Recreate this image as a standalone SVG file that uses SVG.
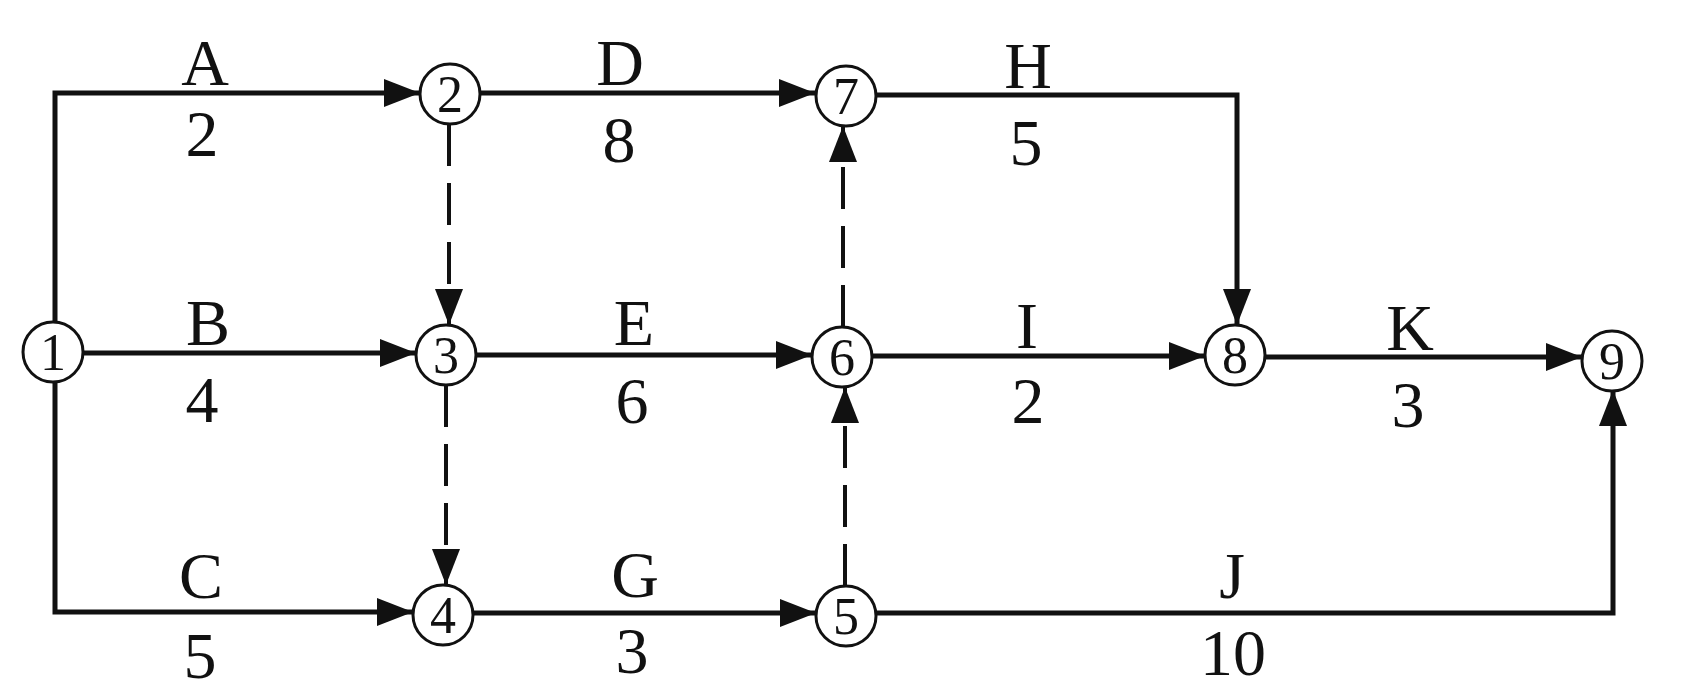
<svg xmlns="http://www.w3.org/2000/svg" width="1694" height="696" viewBox="0 0 1694 696">
<style>
.edge{fill:none;stroke:#111;stroke-width:5;stroke-linejoin:miter;marker-end:url(#arr)}
.dash{stroke-dasharray:42 17;stroke-width:4}
.node circle{fill:#fff;stroke:#111;stroke-width:3}
.node text{font-family:"Liberation Serif","DejaVu Serif",serif;font-size:52px;fill:#111;text-anchor:middle}
.lbl{font-family:"Liberation Serif","DejaVu Serif",serif;font-size:66px;fill:#111;text-anchor:middle}
</style>
<defs>
<marker id="arr" markerUnits="userSpaceOnUse" markerWidth="38" markerHeight="30" refX="36" refY="14" orient="auto">
<path d="M0,0 L36,14 L0,28 z" fill="#111"/>
</marker>
</defs>
<rect width="1694" height="696" fill="#fff"/>
<g id="connectors">
<path class="edge" d="M55,322 V93 H420"/>
<path class="edge" d="M83,353 H416"/>
<path class="edge" d="M55,382 V612 H413"/>
<path class="edge dash" d="M449,124 V325"/>
<path class="edge dash" d="M446,385 V585"/>
<path class="edge" d="M480,93 H815"/>
<path class="edge" d="M476,355 H812"/>
<path class="edge" d="M473,613 H816"/>
<path class="edge dash" d="M845,586 V387"/>
<path class="edge dash" d="M843,327 V126"/>
<path class="edge" d="M876,95 H1237 V325"/>
<path class="edge" d="M872,356 H1205"/>
<path class="edge" d="M1265,357 H1582"/>
<path class="edge" d="M876,613 H1613 V390"/>
</g>
<g id="labels">
<text class="lbl" x="205" y="85">A</text>
<text class="lbl" x="202" y="156">2</text>
<text class="lbl" x="208" y="345">B</text>
<text class="lbl" x="202" y="422">4</text>
<text class="lbl" x="201" y="598">C</text>
<text class="lbl" x="200" y="678">5</text>
<text class="lbl" x="620" y="85">D</text>
<text class="lbl" x="619" y="162">8</text>
<text class="lbl" x="634" y="345">E</text>
<text class="lbl" x="632" y="423">6</text>
<text class="lbl" x="635" y="597">G</text>
<text class="lbl" x="632" y="673">3</text>
<text class="lbl" x="1028" y="88">H</text>
<text class="lbl" x="1026" y="165">5</text>
<text class="lbl" x="1027" y="348">I</text>
<text class="lbl" x="1028" y="423">2</text>
<text class="lbl" x="1410" y="350">K</text>
<text class="lbl" x="1408" y="427">3</text>
<text class="lbl" x="1232" y="598">J</text>
<text class="lbl" x="1233" y="675">10</text>
</g>
<g id="node1" class="node"><circle cx="53" cy="352" r="30"/><text x="53" y="370">1</text></g>
<g id="node2" class="node"><circle cx="450" cy="94" r="30"/><text x="450" y="112">2</text></g>
<g id="node3" class="node"><circle cx="446" cy="355" r="30"/><text x="446" y="373">3</text></g>
<g id="node4" class="node"><circle cx="443" cy="615" r="30"/><text x="443" y="633">4</text></g>
<g id="node5" class="node"><circle cx="846" cy="616" r="30"/><text x="846" y="634">5</text></g>
<g id="node6" class="node"><circle cx="842" cy="357" r="30"/><text x="842" y="375">6</text></g>
<g id="node7" class="node"><circle cx="846" cy="96" r="30"/><text x="846" y="114">7</text></g>
<g id="node8" class="node"><circle cx="1235" cy="355" r="30"/><text x="1235" y="373">8</text></g>
<g id="node9" class="node"><circle cx="1612" cy="361" r="30"/><text x="1612" y="379">9</text></g>
</svg>
